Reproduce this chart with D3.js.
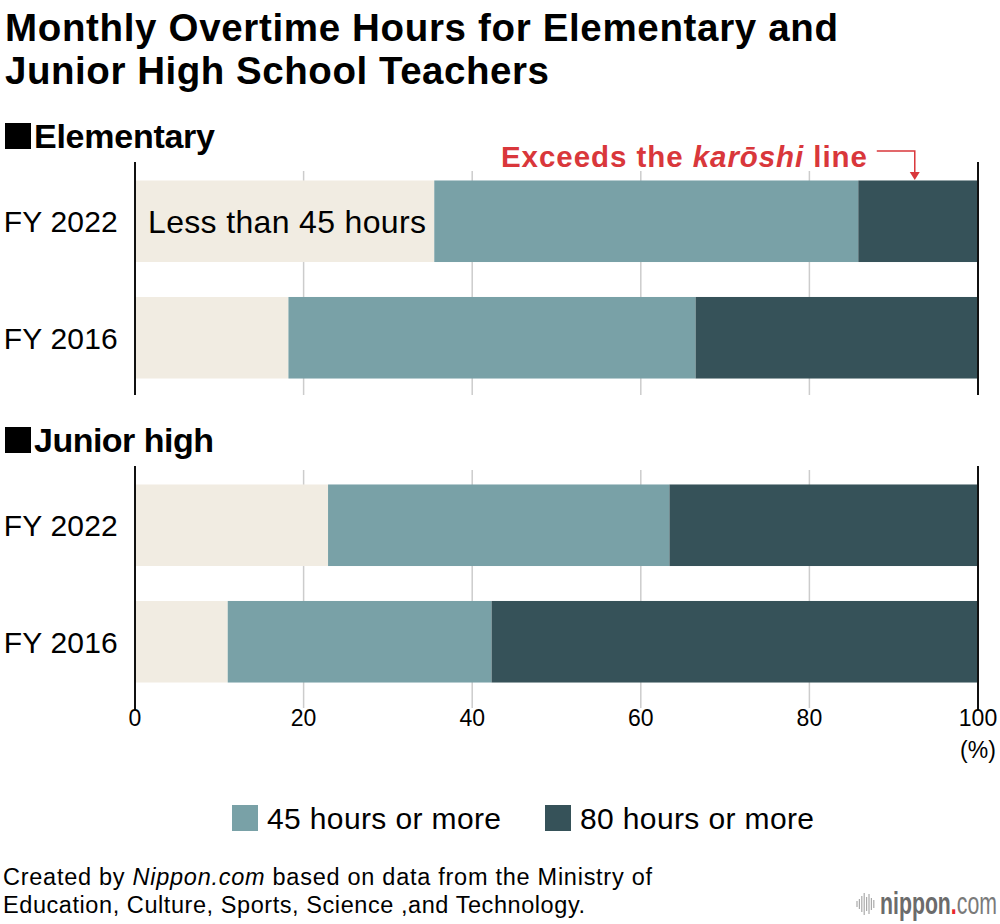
<!DOCTYPE html>
<html>
<head>
<meta charset="utf-8">
<script src="https://cdn.jsdelivr.net/npm/d3@7"></script>
<style>
  body { margin: 0; background: #fff; }
  svg { display: block; font-family: "Liberation Sans", Arial, Helvetica, sans-serif; }
</style>
</head>
<body>
<svg id="chart" width="1000" height="924"></svg>
<script>
// data (share of teachers, %)
const years = ["FY 2022", "FY 2016"];
const elemOver45 = [64.5, 81.8];
const elemOver80 = [14.2, 33.5];
const juniorOver45 = [77.1, 89.0];
const juniorOver80 = [36.6, 57.7];
const tickValues = [0, 20, 40, 60, 80, 100];
const legendLabels = ["45 hours or more", "80 hours or more"];

const colors = { under: "#f1ece2", over45: "#79a1a7", over80: "#365259", grid: "#cccccc", red: "#d9373b" };

const svg = d3.select("#chart");
const x = d3.scaleLinear().domain([0, 100]).range([135, 978]);

// stretch a text to a measured width
const fit = (sel, w) => sel.attr("textLength", w).attr("lengthAdjust", "spacing");

// title
fit(svg.append("text").attr("x", 5).attr("y", 41).attr("font-size", 38.5).attr("font-weight", "bold")
  .text("Monthly Overtime Hours for Elementary and"), 833);
fit(svg.append("text").attr("x", 5).attr("y", 84).attr("font-size", 38.5).attr("font-weight", "bold")
  .text("Junior High School Teachers"), 544);

const sections = [
  { name: "Elementary", over45: elemOver45, over80: elemOver80, top: 163, bottom: 396, axisEnd: 395, gridTop: 171, nameW: 181 },
  { name: "Junior high", over45: juniorOver45, over80: juniorOver80, top: 467, bottom: 700, axisEnd: 710, gridTop: 470, nameW: 180 }
];

const drawSection = s => {
  const g = svg.append("g");
  const y = d3.scaleBand().domain(years).range([s.top, s.bottom]).paddingInner(0.3).paddingOuter(0.15);

  // heading
  g.append("rect").attr("x", 5).attr("y", s.top - 40).attr("width", 26).attr("height", 26).attr("fill", "#000");
  fit(g.append("text").attr("x", 34).attr("y", s.top - 15).attr("font-size", 34).attr("font-weight", "bold")
    .text(s.name), s.nameW);

  // grid lines
  g.selectAll(".grid").data(tickValues.slice(1, -1)).enter().append("line")
    .attr("x1", d => x(d)).attr("x2", d => x(d))
    .attr("y1", s.gridTop).attr("y2", s.axisEnd === 710 ? 708 : s.axisEnd)
    .attr("stroke", colors.grid).attr("stroke-width", 1.5);

  const rows = years.map((yr, i) => ({
    year: yr,
    segs: [
      { x0: 0, x1: 100 - s.over45[i], c: colors.under },
      { x0: 100 - s.over45[i], x1: 100 - s.over80[i], c: colors.over45 },
      { x0: 100 - s.over80[i], x1: 100, c: colors.over80 }
    ]
  }));

  rows.forEach(r => {
    g.selectAll(null).data(r.segs).enter().append("rect")
      .attr("x", d => x(d.x0))
      .attr("width", d => x(d.x1) - x(d.x0))
      .attr("y", y(r.year))
      .attr("height", y.bandwidth())
      .attr("fill", d => d.c);
  });

  // category labels
  g.selectAll(".cat").data(years).enter().append("text")
    .attr("x", 118).attr("y", d => y(d) + y.bandwidth() / 2).attr("dy", "0.36em")
    .attr("text-anchor", "end").attr("font-size", 30).attr("letter-spacing", 0.2)
    .text(d => d);

  // axis edges
  [0, 100].forEach(v => {
    g.append("line").attr("x1", x(v)).attr("x2", x(v)).attr("y1", s.top - 1).attr("y2", s.axisEnd)
      .attr("stroke", "#111").attr("stroke-width", 2);
  });
  return y;
};

const yElem = drawSection(sections[0]);
drawSection(sections[1]);

// label inside first bar
fit(svg.append("text").attr("x", 148).attr("y", yElem("FY 2022") + yElem.bandwidth() / 2).attr("dy", "0.36em")
  .attr("font-size", 32).text("Less than 45 hours"), 278);

// karoshi annotation
const note = svg.append("text").attr("x", 501).attr("y", 167).attr("font-size", 29.5)
  .attr("font-weight", "bold").attr("fill", colors.red);
note.append("tspan").text("Exceeds the ");
note.append("tspan").attr("font-style", "italic").text("karōshi");
note.append("tspan").text(" line");
fit(note, 366);

const ax = x(92.5);
svg.append("path")
  .attr("d", `M${ax - 38},151 H${ax} V173`)
  .attr("fill", "none").attr("stroke", colors.red).attr("stroke-width", 1.5);
svg.append("path")
  .attr("d", `M${ax - 5},172 L${ax + 5},172 L${ax},180 Z`)
  .attr("fill", colors.red);

// x axis labels
svg.selectAll(".tick").data(tickValues).enter().append("text")
  .attr("x", d => x(d)).attr("y", 718).attr("dy", "0.36em")
  .attr("text-anchor", "middle").attr("font-size", 23)
  .text(d => d);
svg.append("text").attr("x", x(100)).attr("y", 750).attr("dy", "0.36em")
  .attr("text-anchor", "middle").attr("font-size", 23).text("(%)");

// legend
const legend = [
  { label: legendLabels[0], c: colors.over45, x: 232 },
  { label: legendLabels[1], c: colors.over80, x: 545 }
];
legend.forEach(l => {
  svg.append("rect").attr("x", l.x).attr("y", 805).attr("width", 26).attr("height", 26).attr("fill", l.c);
  fit(svg.append("text").attr("x", l.x + 35).attr("y", 818).attr("dy", "0.36em").attr("font-size", 30)
    .text(l.label), 234);
});

// source
const src = svg.append("text").attr("x", 3).attr("y", 885).attr("font-size", 23.5);
src.append("tspan").text("Created by ");
src.append("tspan").attr("font-style", "italic").text("Nippon.com");
src.append("tspan").text(" based on data from the Ministry of");
fit(src, 649);
fit(svg.append("text").attr("x", 3).attr("y", 913).attr("font-size", 23.5)
  .text("Education, Culture, Sports, Science ,and Technology."), 582);

// logo
const waves = [6, 10, 16, 22, 14, 20, 12, 8];
svg.selectAll(".wave").data(waves).enter().append("line")
  .attr("x1", (d, i) => 857 + i * 2.4).attr("x2", (d, i) => 857 + i * 2.4)
  .attr("y1", d => 904 - d / 2).attr("y2", d => 904 + d / 2)
  .attr("stroke", "#aaa").attr("stroke-width", 1.2);
const logoG = svg.append("g");
const logo = logoG.append("text").attr("x", 0).attr("y", 0).attr("font-size", 31);
logo.append("tspan").attr("font-weight", "bold").attr("fill", "#6b6b6b").text("nippon");
logo.append("tspan").attr("font-weight", "bold").attr("fill", "#e8262c").text(".");
logo.append("tspan").attr("font-weight", "normal").attr("fill", "#7a7a7a").text("com");
// squeeze the logo horizontally into the space up to the right edge
const logoW = logo.node().getComputedTextLength();
logoG.attr("transform", `translate(880,914) scale(${117 / logoW},1)`);
</script>
</body>
</html>
